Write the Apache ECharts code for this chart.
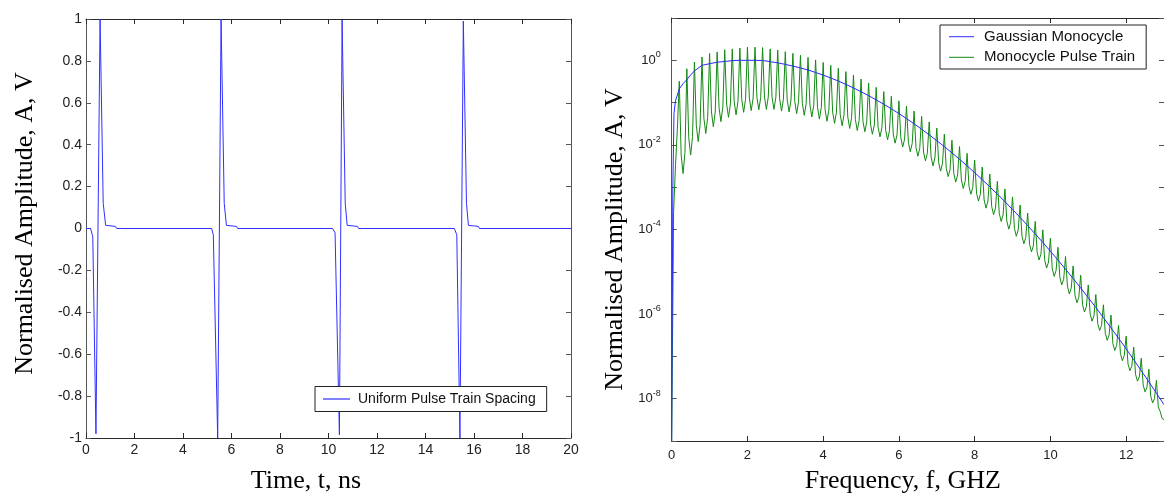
<!DOCTYPE html>
<html>
<head>
<meta charset="utf-8">
<script src="https://cdn.jsdelivr.net/npm/echarts@6/dist/echarts.min.js"></script>
<style>
html,body{margin:0;padding:0;background:#fff;}
#chart{width:1164px;height:499px;}
</style>
</head>
<body>
<div id="chart"></div>
<script>
// ---------- Left panel: pulse train in time ----------
const pulseTime = [0, 0.19, 0.28, 0.41, 0.58, 0.71, 0.81, 1.22, 1.26,
  5.18, 5.25, 5.43, 5.57, 5.70, 5.79, 6.21, 6.25,
  10.17, 10.27, 10.45, 10.56, 10.69, 10.77, 11.2, 11.24,
  15.19, 15.29, 15.42, 15.56, 15.69, 15.77, 16.18, 16.22, 20];
const pulseAmp = [0, 0, -0.04, -0.98, 1.0, 0.12, 0.015, 0.01, 0,
  0, -0.03, -1.0, 1.0, 0.12, 0.015, 0.01, 0,
  0, -0.02, -0.985, 0.995, 0.12, 0.015, 0.01, 0,
  0, -0.03, -1.0, 0.99, 0.12, 0.015, 0.01, 0, 0];

// ---------- Right panel: spectra ----------
const monoFreq = [0, 0.03, 0.06, 0.1, 0.2, 0.3, 0.4, 0.5, 0.6,
  0.8, 1.0, 1.2, 1.4, 1.6, 1.8, 2.0, 2.2, 2.4, 2.6, 2.8, 3.0, 3.2, 3.4, 3.6, 3.8,
  4.0, 4.2, 4.4, 4.6, 4.8, 5.0, 5.2, 5.4, 5.6, 5.8, 6.0, 6.2, 6.4, 6.6, 6.8,
  7.0, 7.2, 7.4, 7.6, 7.8, 8.0, 8.2, 8.4, 8.6, 8.8, 9.0, 9.2, 9.4, 9.6, 9.8,
  10.0, 10.2, 10.4, 10.6, 10.8, 11.0, 11.2, 11.4, 11.6, 11.8, 12.0, 12.2, 12.4, 12.6, 12.8, 13.0];
const monoAmp = [1e-9, 1e-3, 0.056, 0.11, 0.21, 0.28, 0.35, 0.45, 0.56,
  0.76, 0.83, 0.90, 0.94, 0.98, 1.0, 1.0, 1.0, 0.99, 0.93, 0.87, 0.80, 0.73, 0.66, 0.59, 0.515,
  0.447, 0.382, 0.323, 0.269, 0.222, 0.181, 0.146, 0.116, 0.0916, 0.0713, 0.055, 0.0419, 0.0316, 0.0235, 0.0173,
  0.0126, 9.1e-3, 6.5e-3, 4.58e-3, 3.2e-3, 2.21e-3, 1.51e-3, 1.02e-3, 6.85e-4, 4.54e-4, 2.97e-4, 1.93e-4, 1.24e-4, 7.85e-5, 4.94e-5,
  3.07e-5, 1.89e-5, 1.15e-5, 6.95e-6, 4.14e-6, 2.45e-6, 1.43e-6, 8.28e-7, 4.74e-7, 2.69e-7, 1.51e-7, 8.36e-8, 4.59e-8, 2.5e-8, 1.35e-8, 7.2e-9];

const trainFreq = [
  0, 0.05, 0.1, 0.15, 0.2, 0.25, 0.3, 0.35, 0.4, 0.45, 0.5, 0.55, 0.6, 0.65, 0.7, 0.75, 0.8, 0.85, 0.9, 0.95,
  1, 1.05, 1.1, 1.15, 1.2, 1.25, 1.3, 1.35, 1.4, 1.45, 1.5, 1.55, 1.6, 1.65, 1.7, 1.75, 1.8, 1.85, 1.9, 1.95,
  2, 2.05, 2.1, 2.15, 2.2, 2.25, 2.3, 2.35, 2.4, 2.45, 2.5, 2.55, 2.6, 2.65, 2.7, 2.75, 2.8, 2.85, 2.9, 2.95,
  3, 3.05, 3.1, 3.15, 3.2, 3.25, 3.3, 3.35, 3.4, 3.45, 3.5, 3.55, 3.6, 3.65, 3.7, 3.75, 3.8, 3.85, 3.9, 3.95,
  4, 4.05, 4.1, 4.15, 4.2, 4.25, 4.3, 4.35, 4.4, 4.45, 4.5, 4.55, 4.6, 4.65, 4.7, 4.75, 4.8, 4.85, 4.9, 4.95,
  5, 5.05, 5.1, 5.15, 5.2, 5.25, 5.3, 5.35, 5.4, 5.45, 5.5, 5.55, 5.6, 5.65, 5.7, 5.75, 5.8, 5.85, 5.9, 5.95,
  6, 6.05, 6.1, 6.15, 6.2, 6.25, 6.3, 6.35, 6.4, 6.45, 6.5, 6.55, 6.6, 6.65, 6.7, 6.75, 6.8, 6.85, 6.9, 6.95,
  7, 7.05, 7.1, 7.15, 7.2, 7.25, 7.3, 7.35, 7.4, 7.45, 7.5, 7.55, 7.6, 7.65, 7.7, 7.75, 7.8, 7.85, 7.9, 7.95,
  8, 8.05, 8.1, 8.15, 8.2, 8.25, 8.3, 8.35, 8.4, 8.45, 8.5, 8.55, 8.6, 8.65, 8.7, 8.75, 8.8, 8.85, 8.9, 8.95,
  9, 9.05, 9.1, 9.15, 9.2, 9.25, 9.3, 9.35, 9.4, 9.45, 9.5, 9.55, 9.6, 9.65, 9.7, 9.75, 9.8, 9.85, 9.9, 9.95,
  10, 10.05, 10.1, 10.15, 10.2, 10.25, 10.3, 10.35, 10.4, 10.45, 10.5, 10.55, 10.6, 10.65, 10.7, 10.75, 10.8, 10.85, 10.9, 10.95,
  11, 11.05, 11.1, 11.15, 11.2, 11.25, 11.3, 11.35, 11.4, 11.45, 11.5, 11.55, 11.6, 11.65, 11.7, 11.75, 11.8, 11.85, 11.9, 11.95,
  12, 12.05, 12.1, 12.15, 12.2, 12.25, 12.3, 12.35, 12.4, 12.45, 12.5, 12.55, 12.6, 12.65, 12.7, 12.75, 12.8, 12.85, 12.9, 12.95,
  13];
const trainAmp = [
  1e-9, 2.5e-4, 3.2e-3, 0.025, 0.32, 5.8e-3, 2.1e-3, 6.6e-3, 0.63, 0.0148, 5.75e-3, 0.0158, 0.91, 0.0288, 0.012, 0.030, 1.2, 0.0427, 0.0186, 0.0447,
  1.45, 0.060, 0.0269, 0.060, 1.58, 0.076, 0.0355, 0.078, 1.78, 0.093, 0.0447, 0.093, 1.86, 0.105, 0.0513, 0.107, 1.95, 0.117, 0.0589, 0.120,
  2.04, 0.129, 0.0646, 0.129, 2.04, 0.135, 0.0676, 0.132, 2.0, 0.135, 0.0692, 0.135, 1.86, 0.135, 0.0692, 0.132, 1.74, 0.123, 0.063, 0.120,
  1.60, 0.115, 0.060, 0.115, 1.46, 0.106, 0.055, 0.105, 1.32, 0.096, 0.050, 0.094, 1.17, 0.087, 0.0457, 0.085, 1.02, 0.078, 0.0407, 0.076,
  0.89, 0.069, 0.0363, 0.066, 0.76, 0.060, 0.0324, 0.059, 0.65, 0.0525, 0.0282, 0.051, 0.54, 0.0457, 0.0245, 0.0437, 0.45, 0.040, 0.0219, 0.038,
  0.36, 0.0363, 0.0204, 0.0347, 0.29, 0.031, 0.0178, 0.0295, 0.23, 0.0263, 0.0155, 0.0251, 0.182, 0.0224, 0.0132, 0.0214, 0.141, 0.0182, 0.011, 0.0174,
  0.11, 0.0148, 8.9e-3, 0.0138, 0.083, 0.0115, 6.9e-3, 0.0107, 0.063, 8.7e-3, 5.4e-3, 8.3e-3, 0.047, 6.8e-3, 4.2e-3, 6.3e-3, 0.035, 5.2e-3, 3.2e-3, 4.9e-3,
  0.025, 3.8e-3, 2.4e-3, 3.6e-3, 0.018, 2.8e-3, 1.78e-3, 2.6e-3, 0.0129, 2.1e-3, 1.32e-3, 1.95e-3, 9.1e-3, 1.48e-3, 9.3e-4, 1.38e-3, 6.3e-3, 1.05e-3, 6.8e-4, 9.8e-4,
  4.4e-3, 7.2e-4, 4.7e-4, 6.8e-4, 3.0e-3, 5.0e-4, 3.2e-4, 4.7e-4, 2.04e-3, 3.5e-4, 2.24e-4, 3.2e-4, 1.38e-3, 2.4e-4, 1.55e-4, 2.2e-4, 9.1e-4, 1.58e-4, 1.02e-4, 1.45e-4,
  5.9e-4, 1.07e-4, 6.9e-5, 9.8e-5, 3.8e-4, 6.9e-5, 4.6e-5, 6.5e-5, 2.45e-4, 4.5e-5, 2.95e-5, 4.1e-5, 1.55e-4, 2.9e-5, 1.9e-5, 2.6e-5, 9.8e-5, 1.86e-5, 1.23e-5, 1.7e-5,
  6.2e-5, 1.17e-5, 7.8e-6, 1.07e-5, 3.8e-5, 7.4e-6, 4.9e-6, 6.6e-6, 2.3e-5, 4.6e-6, 3.0e-6, 4.1e-6, 1.38e-5, 2.75e-6, 1.86e-6, 2.5e-6, 8.3e-6, 1.66e-6, 1.12e-6, 1.5e-6,
  4.9e-6, 1.0e-6, 6.8e-7, 9.1e-7, 2.9e-6, 6.0e-7, 4.1e-7, 5.4e-7, 1.66e-6, 3.5e-7, 2.4e-7, 3.2e-7, 9.5e-7, 2.0e-7, 1.38e-7, 1.82e-7, 5.4e-7, 1.17e-7, 7.9e-8, 1.05e-7,
  3.0e-7, 6.6e-8, 4.6e-8, 5.9e-8, 1.66e-7, 3.7e-8, 2.6e-8, 3.3e-8, 9.1e-8, 2.1e-8, 1.45e-8, 1.86e-8, 5.0e-8, 1.15e-8, 7.9e-9, 1.02e-8, 2.7e-8, 6.3e-9, 5.0e-9, 3.4e-9,
  3.2e-9];

// tick-label exponents shown on the log axis
const logLabelExps = [0, -2, -4, -6, -8];

const seriesNames = ['Uniform Pulse Train Spacing', 'Gaussian Monocycle', 'Monocycle Pulse Train'];
const seriesColors = ['#3030ff', '#2a2aff', '#138a13'];
const axisTitles = {
  leftX: 'Time, t, ns', leftY: 'Normalised Amplitude, A, V',
  rightX: 'Frequency, f, GHZ', rightY: 'Normalised Amplitude, A, V'
};

// ---------- build ----------
const zip = (xs, ys) => xs.map((x, i) => [x, ys[i]]);
const SANS = 'Liberation Sans, Arial, sans-serif';
const SERIF = 'Liberation Serif, Times New Roman, serif';
const DARK = '#2a2a2a';
const SIDE = '#555';

function hAxis(grid, pos, min, max, extra) {
  return Object.assign({
    gridIndex: grid, type: 'value', position: pos, min: min, max: max, interval: 2,
    axisLine: { onZero: false, lineStyle: { color: DARK, width: 1 } },
    axisTick: { inside: true, length: 5, lineStyle: { color: DARK } },
    axisLabel: { show: false },
    splitLine: { show: false }
  }, extra || {});
}
function vAxis(grid, pos, extra) {
  return Object.assign({
    gridIndex: grid, position: pos,
    axisLine: { onZero: false, lineStyle: { color: SIDE, width: 1 } },
    axisTick: { inside: true, length: 5, lineStyle: { color: SIDE } },
    axisLabel: { show: false },
    splitLine: { show: false }
  }, extra || {});
}
function legendItem(i) {
  return { name: seriesNames[i], itemStyle: { color: seriesColors[i], borderWidth: 0 } };
}

const logLabel = {
  margin: 11,
  formatter: function (v) {
    const e = Math.round(Math.log10(v));
    return logLabelExps.indexOf(e) >= 0 ? '{b|10}{s|' + e + '}' : '';
  },
  rich: {
    b: { fontFamily: SANS, fontSize: 13, color: '#222', lineHeight: 20 },
    s: { fontFamily: SANS, fontSize: 9, color: '#222', lineHeight: 10, verticalAlign: 'top' }
  }
};

const option = {
  animation: false,
  backgroundColor: '#ffffff',
  grid: [
    { left: 86, top: 19, width: 485, height: 422.5 },
    { left: 671.7, top: 18, width: 494.7, height: 425 }
  ],
  xAxis: [
    hAxis(0, 'bottom', 0, 20, {
      axisLabel: { show: true, margin: 5, fontFamily: SANS, fontSize: 14, color: '#222' },
      name: axisTitles.leftX, nameLocation: 'middle', nameGap: 30,
      nameTextStyle: { fontFamily: SERIF, fontSize: 26, color: '#000', padding: [0, 45, 0, 0] }
    }),
    hAxis(0, 'top', 0, 20),
    hAxis(1, 'bottom', 0, 13, {
      axisLabel: { show: true, margin: 8, fontFamily: SANS, fontSize: 13, color: '#222', showMaxLabel: false },
      name: axisTitles.rightX, nameLocation: 'middle', nameGap: 27,
      nameTextStyle: { fontFamily: SERIF, fontSize: 26, color: '#000', padding: [0, 30, 0, 0] }
    }),
    hAxis(1, 'top', 0, 13)
  ],
  yAxis: [
    vAxis(0, 'left', {
      type: 'value', min: -1, max: 1, interval: 0.2,
      axisLabel: { show: true, margin: 4, fontFamily: SANS, fontSize: 14, color: '#222' },
      name: axisTitles.leftY, nameLocation: 'middle', nameGap: 48,
      nameTextStyle: { fontFamily: SERIF, fontSize: 26, color: '#000', padding: [0, 0, 0, 10] }
    }),
    vAxis(0, 'right', { type: 'value', min: -1, max: 1, interval: 0.2 }),
    vAxis(1, 'left', {
      type: 'log', logBase: 10, min: 1e-9, max: 10, interval: 1, splitNumber: 10,
      axisLabel: logLabel,
      name: axisTitles.rightY, nameLocation: 'middle', nameGap: 44,
      nameTextStyle: { fontFamily: SERIF, fontSize: 26, color: '#000', padding: [0, 20, 0, 0] }
    }),
    vAxis(1, 'right', { type: 'log', logBase: 10, min: 1e-9, max: 10, interval: 1, splitNumber: 10 })
  ],
  legend: [
    {
      data: [legendItem(0)], left: 315, top: 386.5, orient: 'horizontal',
      icon: 'rect', itemWidth: 27, itemHeight: 1.2, itemGap: 0,
      padding: [5.5, 11, 5.5, 8], borderColor: '#222', borderWidth: 1, backgroundColor: '#fff',
      selectedMode: false,
      textStyle: { fontFamily: SANS, fontSize: 14, color: '#111', padding: [0, 0, 0, 3] }
    },
    {
      data: [legendItem(1), legendItem(2)], left: 940, top: 25, orient: 'vertical',
      icon: 'rect', itemWidth: 25, itemHeight: 1, itemGap: 5.6,
      padding: [4.2, 11, 4.2, 9], borderColor: '#222', borderWidth: 1, backgroundColor: '#fff',
      selectedMode: false,
      textStyle: { fontFamily: SANS, fontSize: 15, color: '#111', padding: [0, 0, 0, 5] }
    }
  ],
  series: [
    {
      type: 'line', name: seriesNames[0], xAxisIndex: 0, yAxisIndex: 0,
      data: zip(pulseTime, pulseAmp), symbol: 'none', showSymbol: false,
      lineStyle: { color: seriesColors[0], width: 1 }, itemStyle: { color: seriesColors[0] }
    },
    {
      type: 'line', name: seriesNames[2], xAxisIndex: 2, yAxisIndex: 2,
      data: zip(trainFreq, trainAmp), symbol: 'none', showSymbol: false,
      lineStyle: { color: seriesColors[2], width: 1 }, itemStyle: { color: seriesColors[2] }
    },
    {
      type: 'line', name: seriesNames[1], xAxisIndex: 2, yAxisIndex: 2,
      data: zip(monoFreq, monoAmp), symbol: 'none', showSymbol: false,
      lineStyle: { color: seriesColors[1], width: 1 }, itemStyle: { color: seriesColors[1] }
    }
  ]
};

const chart = echarts.init(document.getElementById('chart'), null, { renderer: 'canvas' });
chart.setOption(option);
</script>
</body>
</html>
